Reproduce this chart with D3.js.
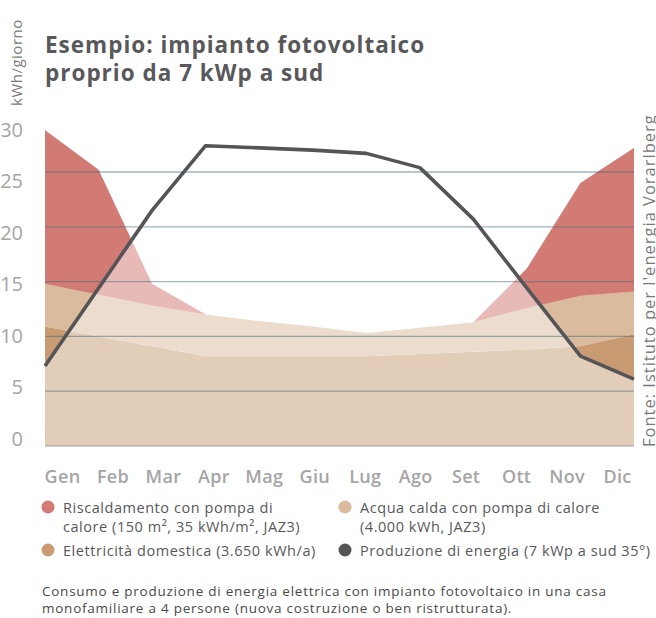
<!DOCTYPE html>
<html lang="it">
<head>
<meta charset="utf-8">
<title>Esempio: impianto fotovoltaico</title>
<script src="https://d3js.org/d3.v7.min.js"></script>
<style>
  body { margin: 0; background: #fff; }
  svg text { font-family: "Open Sans", sans-serif; }
  .title { font-size: 22.5px; font-weight: 700; fill: #58585a; letter-spacing: 1px; }
  .unit { font-size: 15px; fill: #7a7a7a; letter-spacing: 0.5px; }
  .axisl text { font-size: 20px; font-weight: 500; fill: #a5a5a5; }
  .axisb text { font-size: 18px; font-weight: 600; fill: #a5a5a5; letter-spacing: 0.3px; }
  .legend text { font-size: 14.5px; fill: #58585a; letter-spacing: 0.55px; }
  .note { font-size: 13.5px; fill: #4a4a4a; letter-spacing: 0.75px; }
  .source { font-size: 16.5px; fill: #7a7a7a; letter-spacing: 1px; }
</style>
</head>
<body>
<svg id="chart" width="656" height="618"></svg>
<script>
const mesi = ["Gen", "Feb", "Mar", "Apr", "Mag", "Giu", "Lug", "Ago", "Set", "Ott", "Nov", "Dic"];

// kWh/giorno, stacked from the bottom
const elettricita   = [10.9, 10.0, 9.1, 8.2, 8.2, 8.2, 8.2, 8.4, 8.6, 8.8, 9.1, 10.2];
const acquaCalda    = [3.9, 3.8, 3.7, 3.8, 3.2, 2.7, 2.1, 2.4, 2.7, 3.8, 4.6, 3.9];
const riscaldamento = [14.0, 11.4, 2.0, 0, 0, 0, 0, 0, 0, 3.6, 10.3, 13.1];
const produzione    = [7.3, 14.4, 21.5, 27.4, 27.2, 27.0, 26.7, 25.4, 20.7, 14.4, 8.2, 6.1];

const yTicks = [0, 5, 10, 15, 20, 25, 30];
const gridTicks = [0, 5, 10, 15, 20, 25];

const serie = [
  { key: "elettricita", full: "#c99b73", pale: "#e2cdb9", label: ["Elettricità domestica (3.650 kWh/a)"] },
  { key: "acqua", full: "#dbbb9d", pale: "#ecdccd", label: ["Acqua calda con pompa di calore", "(4.000 kWh, JAZ3)"] },
  { key: "riscaldamento", full: "#d27b75", pale: "#e8bab7", label: ["Riscaldamento con pompa di", "calore (150 m², 35 kWh/m², JAZ3)"] }
];

const rows = mesi.map((m, i) => ({
  mese: m,
  elettricita: elettricita[i],
  acqua: acquaCalda[i],
  riscaldamento: riscaldamento[i],
  produzione: produzione[i]
}));

const left = 45, right = 634;

const xScale = d3.scalePoint().domain(mesi).range([left, right]);
const yScale = d3.scaleLinear().domain([0, 25]).range([446, 172]);
// tick labels sit on their own, slightly tighter spacing
const yLabelScale = d3.scaleLinear().domain([0, 30]).range([439, 130]);
const xLabelScale = d3.scalePoint().domain(mesi).range([62, 617]);

const svg = d3.select("#chart");

const stacked = d3.stack().keys(serie.map(s => s.key))(rows);

const area = d3.area()
    .x(d => xScale(d.data.mese))
    .y0(d => yScale(d[0]))
    .y1(d => yScale(d[1]));

// region above the production line
svg.append("clipPath")
    .attr("id", "sopra")
  .append("path")
    .attr("d", d3.area()
        .x(d => xScale(d.mese))
        .y0(0)
        .y1(d => yScale(d.produzione))(rows));

// pale = covered by own production
svg.append("g")
  .selectAll("path")
  .data(stacked)
  .join("path")
    .attr("d", area)
    .attr("fill", (d, i) => serie[i].pale);

svg.append("g")
    .attr("clip-path", "url(#sopra)")
  .selectAll("path")
  .data(stacked)
  .join("path")
    .attr("d", area)
    .attr("fill", (d, i) => serie[i].full);

// gridlines
svg.append("g")
  .selectAll("line")
  .data(gridTicks)
  .join("line")
    .attr("x1", left)
    .attr("x2", right)
    .attr("y1", d => yScale(d))
    .attr("y2", d => yScale(d))
    .attr("stroke", d => d === 0 ? "#8a8a8a" : "#46677a")
    .attr("stroke-opacity", 0.5)
    .attr("stroke-width", 1.3);

// production line
svg.append("path")
    .datum(rows)
    .attr("d", d3.line().x(d => xScale(d.mese)).y(d => yScale(d.produzione)))
    .attr("fill", "none")
    .attr("stroke", "#555558")
    .attr("stroke-width", 3.6)
    .attr("stroke-linejoin", "round");

// axes
const leftAxis = d3.axisLeft(yLabelScale).tickValues(yTicks).tickSize(0).tickPadding(0);
svg.append("g")
    .attr("class", "axisl")
    .attr("transform", "translate(23,0)")
    .call(leftAxis)
    .call(g => g.select(".domain").remove())
    .selectAll("text").attr("font-family", null);

const bottomAxis = d3.axisBottom(xLabelScale).tickSize(0).tickPadding(0);
svg.append("g")
    .attr("class", "axisb")
    .attr("transform", "translate(0,470)")
    .call(bottomAxis)
    .call(g => g.select(".domain").remove())
    .selectAll("text").attr("font-family", null);

// titles
svg.append("text")
    .attr("class", "unit")
    .attr("transform", "translate(22,106) rotate(-90)")
    .text("kWh/giorno");

const title = svg.append("text").attr("class", "title");
title.append("tspan").attr("x", 45).attr("y", 53).text("Esempio: impianto fotovoltaico");
title.append("tspan").attr("x", 45).attr("y", 81).text("proprio da 7 kWp a sud");

svg.append("text")
    .attr("class", "source")
    .attr("transform", "translate(655,447) rotate(-90)")
    .text("Fonte: Istituto per l'energia Vorarlberg");

// legend
const legendItems = [
  { s: serie[2], x: 48, y: 507 },
  { s: serie[1], x: 345, y: 507 },
  { s: serie[0], x: 48, y: 550 },
  { s: { full: "#555558", label: ["Produzione di energia (7 kWp a sud 35°)"] }, x: 345, y: 550 }
];

const legend = svg.append("g").attr("class", "legend");
const item = legend.selectAll("g")
  .data(legendItems)
  .join("g")
    .attr("transform", d => "translate(" + d.x + "," + d.y + ")");

item.append("circle")
    .attr("r", 6.5)
    .attr("fill", d => d.s.full);

item.append("text")
  .selectAll("tspan")
  .data(d => d.s.label)
  .join("tspan")
    .attr("x", 15)
    .attr("y", (d, i) => 6 + i * 19)
    .text(d => d);

// caption
const note = svg.append("text").attr("class", "note");
note.append("tspan").attr("x", 42).attr("y", 596)
    .text("Consumo e produzione di energia elettrica con impianto fotovoltaico in una casa");
note.append("tspan").attr("x", 42).attr("y", 613)
    .text("monofamiliare a 4 persone (nuova costruzione o ben ristrutturata).");
</script>
</body>
</html>
